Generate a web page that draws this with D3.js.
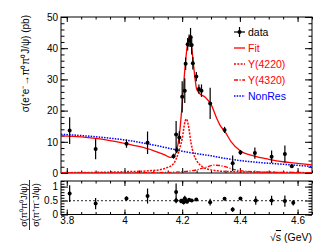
<!DOCTYPE html>
<html>
<head>
<meta charset="utf-8">
<script src="https://cdn.jsdelivr.net/npm/d3@7"></script>
<style>
  body { margin: 0; background: #fff; }
  svg { display: block; font-family: "Liberation Sans", Arial, sans-serif; }
</style>
</head>
<body>
<div id="chart"></div>
<script>
// data: energy (GeV), cross section (pb), error
const dataE   = [3.81, 3.90, 4.007, 4.08, 4.17, 4.179, 4.181, 4.19, 4.20, 4.209, 4.212, 4.219, 4.224, 4.229, 4.233, 4.237, 4.249, 4.258, 4.267, 4.297, 4.347, 4.375, 4.402, 4.452, 4.51, 4.556, 4.58];
const dataSig = [13.6, 7.7, 9.4, 9.7, 5.4, 12.3, 7.4, 11.4, 24.4, 26.4, 35.0, 41.3, 42.4, 43.5, 41.0, 35.2, 30.9, 26.9, 26.4, 22.3, 13.8, 3.1, 6.6, 6.4, 5.2, 6.1, 2.2];
const dataErr = [4.3, 3.3, 1.3, 3.6, 0.8, 4.4, 1.0, 2.0, 5.0, 4.0, 2.0, 2.0, 2.0, 3.0, 3.0, 2.0, 1.5, 1.5, 2.0, 5.0, 1.0, 2.5, 0.8, 1.8, 2.0, 2.7, 0.6];

// curves
const fitE   = [3.78, 3.85, 3.90, 4.00, 4.05, 4.10, 4.14, 4.16, 4.17, 4.18, 4.19, 4.20, 4.21, 4.218, 4.225, 4.232, 4.24, 4.25, 4.26, 4.28, 4.30, 4.32, 4.33, 4.35, 4.37, 4.40, 4.45, 4.50, 4.55, 4.60, 4.65];
const fitSig = [11.9, 11.6, 11.1, 9.5, 8.5, 7.2, 5.8, 5.0, 5.2, 7.0, 12.0, 22.0, 34.0, 41.0, 43.5, 41.0, 34.0, 27.0, 25.5, 24.3, 22.0, 17.5, 15.5, 13.0, 10.0, 7.2, 5.4, 4.4, 3.6, 3.1, 2.6];

const y4220E   = [3.78, 3.90, 4.00, 4.10, 4.15, 4.17, 4.19, 4.20, 4.21, 4.215, 4.222, 4.23, 4.24, 4.25, 4.27, 4.30, 4.35, 4.45, 4.65];
const y4220Sig = [0.1, 0.2, 0.4, 0.8, 1.8, 3.0, 7.4, 11.0, 16.5, 17.3, 15.0, 10.0, 6.0, 4.0, 2.0, 1.0, 0.5, 0.3, 0.1];

const y4320E   = [3.78, 4.00, 4.15, 4.20, 4.25, 4.28, 4.31, 4.33, 4.36, 4.39, 4.45, 4.55, 4.65];
const y4320Sig = [0.0, 0.05, 0.2, 0.4, 1.0, 1.8, 2.5, 2.4, 1.7, 0.9, 0.4, 0.2, 0.1];

const nonResE   = [3.78, 3.85, 3.90, 4.00, 4.10, 4.17, 4.20, 4.30, 4.375, 4.45, 4.55, 4.65];
const nonResSig = [12.4, 12.0, 11.6, 10.6, 9.0, 7.6, 7.0, 5.5, 4.3, 3.5, 2.8, 2.1];

// ratio panel
const ratioE   = [3.81, 3.90, 4.007, 4.08, 4.179, 4.179, 4.196, 4.20, 4.205, 4.209, 4.212, 4.217, 4.224, 4.233, 4.249, 4.297, 4.347, 4.375, 4.402, 4.455, 4.51, 4.556, 4.585];
const ratioVal = [0.75, 0.39, 0.57, 0.66, 0.81, 0.50, 0.48, 0.48, 0.44, 0.57, 0.50, 0.46, 0.53, 0.50, 0.54, 0.44, 0.56, 0.18, 0.57, 0.50, 0.50, 0.48, 0.42];
const ratioErr = [0.30, 0.20, 0.08, 0.27, 0.30, 0.10, 0.08, 0.08, 0.08, 0.10, 0.08, 0.06, 0.06, 0.05, 0.05, 0.12, 0.05, 0.08, 0.05, 0.15, 0.17, 0.20, 0.10];
const ratioRef = 0.5;

const xTicks = [3.8, 4.0, 4.2, 4.4, 4.6];
const topTicks = [0, 10, 20, 30, 40, 50];
const botTicks = [0, 0.5, 1];

const W = 332, H = 249;
const left = 61, right = 312;
const top1 = 17, bot1 = 173;
const top2 = 181, bot2 = 214.5;

const svg = d3.select("#chart").append("svg")
  .attr("width", W).attr("height", H);

const x = d3.scaleLinear().domain([3.78, 4.65]).range([left, right]);
const yT = d3.scaleLinear().domain([0, 50]).range([bot1, top1]);
const yB = d3.scaleLinear().domain([0, 1.2]).range([bot2, top2]);

const minorX = d3.range(3.8, 4.651, 0.05);
const minorYT = d3.range(0, 50.1, 2);
const minorYB = d3.range(0, 1.21, 0.1);

function styleAxis(g) {
  g.select(".domain").remove();
  g.selectAll(".tick line").attr("stroke", "#000").attr("stroke-width", 1);
  g.selectAll(".tick text").attr("font-size", 10).attr("fill", "#000")
    .attr("font-family", "Liberation Sans, Arial, sans-serif");
}

function frame(y0, y1, yScale, yMajor, yMinor, labelX, yMaj, yMin, xMaj, xMin) {
  // left axis
  svg.append("g").attr("transform", `translate(${left},0)`)
    .call(d3.axisLeft(yScale).tickValues(yMinor).tickSize(-yMin).tickFormat(""))
    .call(styleAxis);
  svg.append("g").attr("transform", `translate(${left},0)`)
    .call(d3.axisLeft(yScale).tickValues(yMajor).tickSize(-yMaj).tickPadding(3).tickFormat(d3.format("~g")))
    .call(styleAxis);
  // right axis
  svg.append("g").attr("transform", `translate(${right},0)`)
    .call(d3.axisRight(yScale).tickValues(yMinor).tickSize(-yMin).tickFormat(""))
    .call(styleAxis);
  svg.append("g").attr("transform", `translate(${right},0)`)
    .call(d3.axisRight(yScale).tickValues(yMajor).tickSize(-yMaj).tickFormat(""))
    .call(styleAxis);
  // top / bottom x
  svg.append("g").attr("transform", `translate(0,${y0})`)
    .call(d3.axisTop(x).tickValues(minorX).tickSize(-xMin).tickFormat(""))
    .call(styleAxis);
  svg.append("g").attr("transform", `translate(0,${y0})`)
    .call(d3.axisTop(x).tickValues(xTicks).tickSize(-xMaj).tickFormat(""))
    .call(styleAxis);
  svg.append("g").attr("transform", `translate(0,${y1})`)
    .call(d3.axisBottom(x).tickValues(minorX).tickSize(-xMin).tickFormat(""))
    .call(styleAxis);
  svg.append("g").attr("transform", `translate(0,${y1})`)
    .call(d3.axisBottom(x).tickValues(xTicks).tickSize(-xMaj).tickPadding(2)
      .tickFormat(labelX ? d3.format("~g") : ""))
    .call(styleAxis);
  svg.append("rect").attr("x", left).attr("y", y0)
    .attr("width", right - left).attr("height", y1 - y0)
    .attr("fill", "none").attr("stroke", "#000").attr("stroke-width", 1);
}

frame(top1, bot1, yT, topTicks, minorYT, false, 7, 3.5, 5, 2.5);
frame(top2, bot2, yB, botTicks, minorYB, true, 7, 3.5, 5, 2.5);

// curves
svg.append("clipPath").attr("id", "clipTop")
  .append("rect").attr("x", left).attr("y", top1).attr("width", right - left).attr("height", bot1 - top1);

function curve(es, vs, color, dash, w) {
  const pts = es.map((e, i) => [e, vs[i]]);
  svg.append("path")
    .attr("clip-path", "url(#clipTop)")
    .attr("d", d3.line().x(d => x(d[0])).y(d => yT(d[1])).curve(d3.curveMonotoneX)(pts))
    .attr("fill", "none").attr("stroke", color)
    .attr("stroke-width", w).attr("stroke-dasharray", dash);
}

curve(nonResE, nonResSig, "#0000ff", "1.5,1.2", 1.5);
curve(y4220E, y4220Sig, "#ff0000", "2,1.3", 1.5);
curve(y4320E, y4320Sig, "#ff0000", "4,1.5,1.2,1.5", 1.3);
curve(fitE, fitSig, "#ff0000", null, 1.3);

// data points
const pts = dataE.map((e, i) => ({ e, v: dataSig[i], err: dataErr[i] }));
svg.append("g").selectAll("line").data(pts).join("line")
  .attr("x1", d => x(d.e)).attr("x2", d => x(d.e))
  .attr("y1", d => yT(d.v - d.err)).attr("y2", d => yT(d.v + d.err))
  .attr("stroke", "#000").attr("stroke-width", 1.2);
svg.append("g").selectAll("circle").data(pts).join("circle")
  .attr("cx", d => x(d.e)).attr("cy", d => yT(d.v)).attr("r", 2)
  .attr("fill", "#000");

// ratio panel
svg.append("line")
  .attr("x1", left).attr("x2", right)
  .attr("y1", yB(ratioRef)).attr("y2", yB(ratioRef))
  .attr("stroke", "#555").attr("stroke-width", 1.2).attr("stroke-dasharray", "2,2");
const rpts = ratioE.map((e, i) => ({ e, v: ratioVal[i], err: ratioErr[i] }));
svg.append("g").selectAll("line").data(rpts).join("line")
  .attr("x1", d => x(d.e)).attr("x2", d => x(d.e))
  .attr("y1", d => yB(Math.max(0, d.v - d.err))).attr("y2", d => yB(d.v + d.err))
  .attr("stroke", "#000").attr("stroke-width", 1.2);
svg.append("g").selectAll("circle").data(rpts).join("circle")
  .attr("cx", d => x(d.e)).attr("cy", d => yB(d.v)).attr("r", 2)
  .attr("fill", "#000");

// legend
const legend = [
  { label: "data", color: "#000", type: "data" },
  { label: "Fit", color: "#ff0000", dash: null },
  { label: "Y(4220)", color: "#ff0000", dash: "2,1.3" },
  { label: "Y(4320)", color: "#ff0000", dash: "4,1.5,1.2,1.5" },
  { label: "NonRes", color: "#0000ff", dash: "1.5,1.2" }
];
const lg = svg.append("g");
legend.forEach((d, i) => {
  const ly = 32 + i * 16;
  if (d.type === "data") {
    lg.append("line").attr("x1", 234).attr("x2", 245).attr("y1", ly).attr("y2", ly).attr("stroke", "#000").attr("stroke-width", 1.2);
    lg.append("line").attr("x1", 239.5).attr("x2", 239.5).attr("y1", ly - 5).attr("y2", ly + 5).attr("stroke", "#000").attr("stroke-width", 1.2);
    lg.append("circle").attr("cx", 239.5).attr("cy", ly).attr("r", 2).attr("fill", "#000");
  } else {
    lg.append("line").attr("x1", 234).attr("x2", 245).attr("y1", ly).attr("y2", ly)
      .attr("stroke", d.color).attr("stroke-width", 1.3).attr("stroke-dasharray", d.dash);
  }
  lg.append("text").attr("x", 248).attr("y", ly).attr("dy", "0.35em")
    .attr("font-size", 10.5).attr("fill", d.color).text(d.label);
});

// axis titles
svg.append("text")
  .attr("transform", `translate(25,15) rotate(-90)`)
  .attr("text-anchor", "end").attr("dy", "0.35em")
  .attr("font-size", 10).text("σ(e⁺e⁻→π⁰π⁰J/ψ) (pb)");

const rt = svg.append("g").attr("transform", "translate(29.5,205) rotate(-90)");
rt.append("text").attr("y", -2.5).attr("text-anchor", "middle").attr("font-size", 9).text("σ(π⁰π⁰J/ψ)");
rt.append("line").attr("x1", -25).attr("x2", 25).attr("y1", 0).attr("y2", 0).attr("stroke", "#000").attr("stroke-width", 0.8);
rt.append("text").attr("y", 9).attr("text-anchor", "middle").attr("font-size", 9).text("σ(π⁺π⁻J/ψ)");

const xt = svg.append("text").attr("x", right).attr("y", 241)
  .attr("text-anchor", "end").attr("font-size", 10.5);
xt.append("tspan").text("√");
xt.append("tspan").attr("text-decoration", "overline").text("s");
xt.append("tspan").text(" (GeV)");
</script>
</body>
</html>
